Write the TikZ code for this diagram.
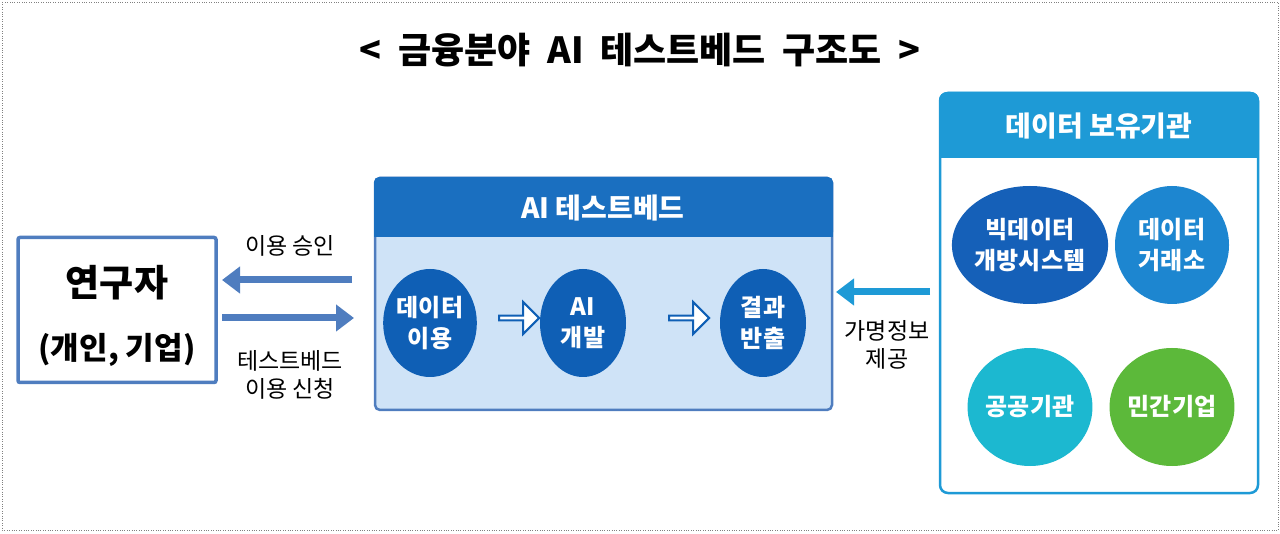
\documentclass[tikz,border=0pt]{standalone}
\usepackage{fontspec}
\setmainfont{Noto Sans CJK KR}
\usetikzlibrary{shapes.arrows,shapes.geometric,arrows.meta}
\definecolor{bl}{HTML}{4F7DBF}
\definecolor{hd}{HTML}{1A6FC0}
\definecolor{lb}{HTML}{CFE3F7}
\definecolor{dk}{HTML}{0F5FB5}
\definecolor{cy}{HTML}{1E9AD6}
\definecolor{c1}{HTML}{1560B8}
\definecolor{c2}{HTML}{1D86D0}
\definecolor{c3}{HTML}{1CB8D0}
\definecolor{c4}{HTML}{5CB93A}
\begin{document}
\begin{tikzpicture}[x=1pt,y=-1pt,
 circ/.style={ellipse,minimum width=86pt,minimum height=108pt,inner sep=0pt,fill=dk,text=white,font=\bfseries\fontsize{24}{31}\selectfont,align=center},
 rc/.style={ellipse,minimum width=114pt,minimum height=118pt,inner sep=0pt,text=white,font=\bfseries\fontsize{24}{31}\selectfont,align=center},
 lbl/.style={font=\fontsize{23}{28}\selectfont,align=center},
 big/.style={-{Triangle[length=18pt,width=26pt]},line width=7pt},
 hol/.style={single arrow,draw=dk,fill=white,line width=2pt,minimum width=32pt,minimum height=40pt,single arrow head extend=6pt,inner sep=0pt}]
\useasboundingbox (0,0) rectangle (1280,534);
\draw[gray,dotted] (2,2) rectangle (1278,530);
\node (t) at (640,50) {\bfseries\fontsize{36}{42}\selectfont <\ \ 금융분야\ \ AI\ \ 테스트베드\ \ 구조도\ \ >};
% researcher
\node[draw=bl,line width=3.5pt,minimum width=198pt,minimum height=145pt,rounded corners=2pt] (r) at (117,310) {};
\node[font=\bfseries\fontsize{37}{42}\selectfont] (r1) at (117,283) {연구자};
\node[font=\bfseries\fontsize{31}{36}\selectfont] (r2) at (117,350) {(개인, 기업)};
% testbed
\draw[bl,line width=2.5pt,fill=lb,rounded corners=5pt] (375,178) rectangle (832,410);
\fill[hd,rounded corners=5pt] (374,177) rectangle (833,237);
\fill[hd] (374,215) rectangle (833,237);
\node[text=white,font=\bfseries\fontsize{28}{32}\selectfont] (tbh) at (603,208) {AI 테스트베드};
\coordinate (tbL1) at (352,280); \coordinate (rR1) at (222,280);
\coordinate (tbL2) at (354,318); \coordinate (rR2) at (222,318);
\draw[big,bl] (tbL1) -- (rR1);
\draw[big,bl] (rR2) -- (tbL2);
\node[lbl] (a1) at (290,246) {이용 승인};
\node[lbl] (a2) at (290,375) {테스트베드\\이용 신청};
\node[circ] (k1) at (430,323) {데이터\\이용};
\node[circ] (k2) at (583,323) {AI\\개발};
\node[circ] (k3) at (763,323) {결과\\반출};
\node[hol] (h1) at (518,318) {};
\node[hol] (h2) at (688,318) {};
% data holders
\draw[cy,line width=2.5pt,fill=white,rounded corners=8pt] (940,93) rectangle (1258,493);
\fill[cy,rounded corners=8pt] (939,92) rectangle (1259,158);
\fill[cy] (939,130) rectangle (1259,158);
\node[text=white,font=\bfseries\fontsize{28}{32}\selectfont] (dh) at (1099,126) {데이터 보유기관};
\coordinate (dL) at (930,292); \coordinate (tR) at (836,292);
\draw[big,cy] (dL) -- (tR);
\node[lbl] (a3) at (887,345) {가명정보\\제공};
\node[rc,fill=c1] (d1) at (1030,245) {빅데이터\\개방시스템};
\node[rc,fill=c2] (d2) at (1172,245) {데이터\\거래소};
\node[rc,fill=c3] (d3) at (1030,407) {공공기관};
\node[rc,fill=c4] (d4) at (1172,407) {민간기업};
\end{tikzpicture}
\end{document}
